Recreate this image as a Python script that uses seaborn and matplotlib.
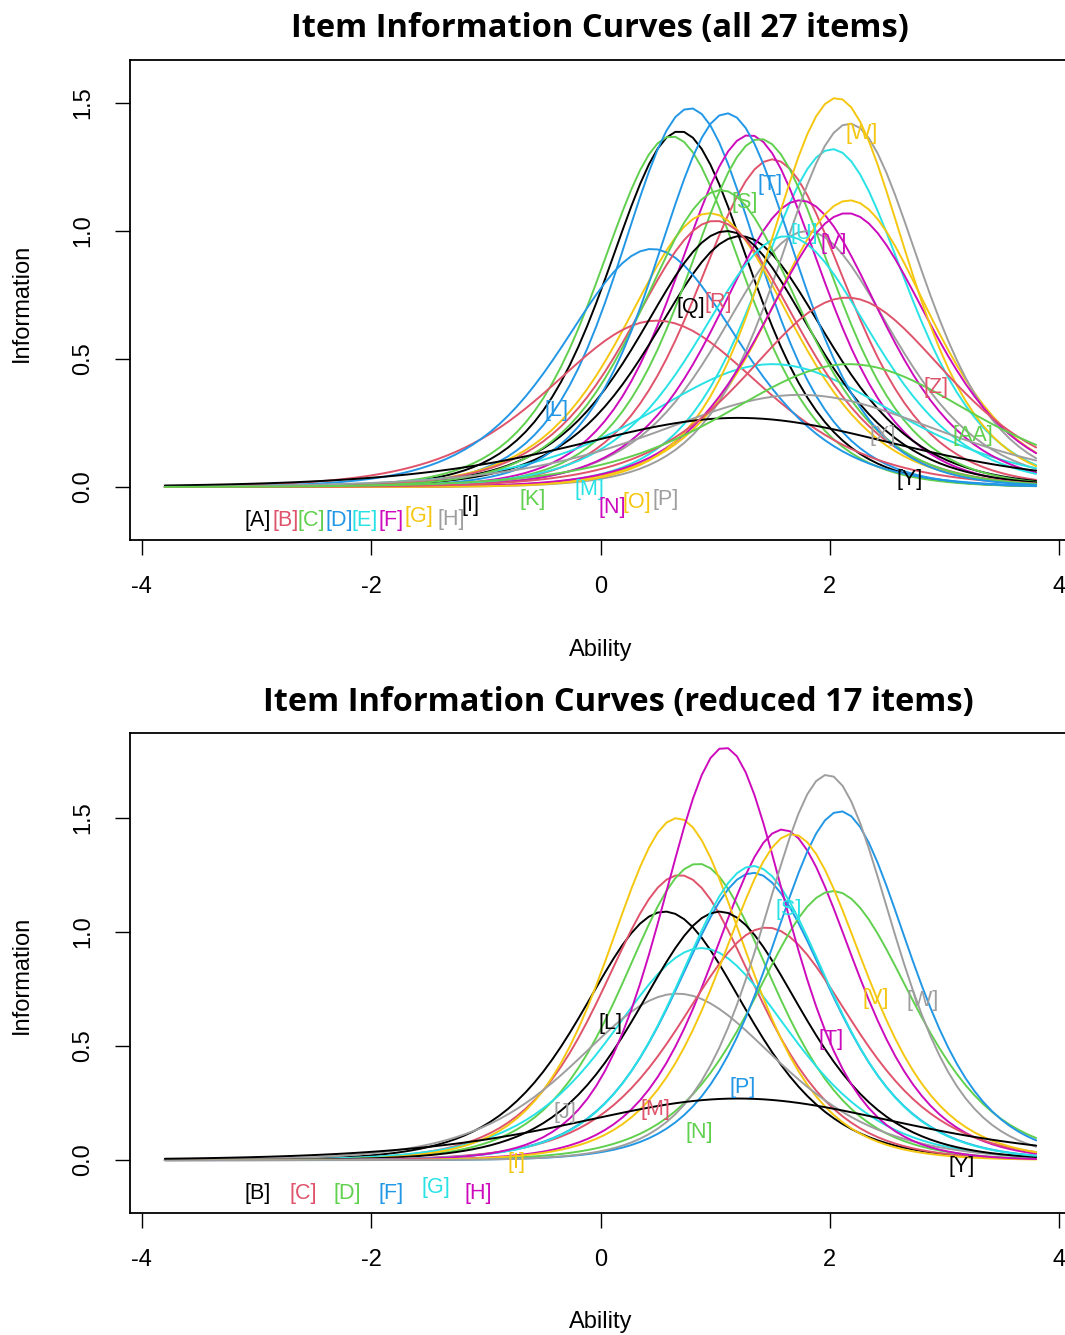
import numpy as np
import pandas as pd
import matplotlib
matplotlib.use("Agg")
import matplotlib.pyplot as plt
import seaborn as sns

# ---------------- data ----------------
R_PALETTE = ["#000000", "#DF536B", "#61D04F", "#2297E6",
             "#28E2E5", "#CD0BBC", "#F5C710", "#9E9E9E"]

# Top panel: all 27 items  (location of the peak, height of the peak)
top_items = ["A", "B", "C", "D", "E", "F", "G", "H", "I", "J", "K", "L", "M",
             "N", "O", "P", "Q", "R", "S", "T", "U", "V", "W", "X", "Y", "Z", "AA"]
top_peak_ability = [0.69, 1.50, 0.62, 0.78, 2.02, 1.30, 0.95, 1.80, 1.22, 0.49,
                    1.39, 0.45, 1.50, 1.74, 2.17, 2.17, 1.10, 1.00, 1.05, 1.10,
                    1.62, 2.15, 2.06, 1.74, 1.20, 2.15, 2.17]
top_peak_info = [1.39, 1.28, 1.37, 1.48, 1.32, 1.375, 1.07, 1.00, 0.98, 0.65,
                 1.36, 0.93, 0.48, 1.12, 1.12, 1.42, 1.00, 1.04, 1.16, 1.46,
                 0.98, 1.07, 1.52, 0.36, 0.27, 0.74, 0.48]
top_label_x = [-2.99, -2.75, -2.52, -2.28, -2.06, -1.83, -1.58, -1.30, -1.13, np.nan,
               -0.59, -0.38, -0.10, 0.10, 0.32, 0.57, 0.79, 1.03, 1.26, 1.48,
               1.78, 2.03, 2.28, 2.46, 2.70, 2.93, 3.25]
top_label_y = [-0.13, -0.13, -0.13, -0.13, -0.13, -0.13, -0.117, -0.125, -0.074, np.nan,
               -0.05, 0.30, -0.01, -0.08, -0.06, -0.05, 0.70, 0.72, 1.11, 1.18,
               0.99, 0.95, 1.38, 0.20, 0.03, 0.39, 0.20]

# Bottom panel: reduced 17 items
bot_items = ["B", "C", "D", "F", "G", "H", "I", "J", "L", "M", "N", "P",
             "S", "T", "V", "W", "Y"]
bot_peak_ability = [0.56, 0.69, 0.85, 1.33, 0.88, 1.59, 0.67, 0.67, 1.04, 1.45,
                    2.03, 2.09, 1.33, 1.08, 1.67, 1.98, 1.20]
bot_peak_info = [1.09, 1.25, 1.30, 1.26, 0.93, 1.45, 1.50, 0.73, 1.09, 1.02,
                 1.18, 1.53, 1.29, 1.81, 1.43, 1.69, 0.27]
bot_label_x = [-2.99, -2.59, -2.21, -1.83, -1.44, -1.07, -0.73, -0.31, 0.09, 0.48,
               0.86, 1.24, 1.64, 2.01, 2.40, 2.81, 3.15]
bot_label_y = [-0.145, -0.145, -0.145, -0.145, -0.12, -0.145, -0.01, 0.21, 0.60, 0.22,
               0.12, 0.32, 1.10, 0.53, 0.71, 0.70, -0.03]

x_ticks = [-4, -2, 0, 2, 4]
x_tick_labels = ["-4", "-2", "0", "2", "4"]
y_ticks = [0.0, 0.5, 1.0, 1.5]
y_tick_labels = ["0.0", "0.5", "1.0", "1.5"]

ability_grid = np.linspace(-3.8, 3.8, 100)


def item_information(theta, location, peak):
    # 2PL item information; discrimination from peak height (peak = a^2/4)
    a = 2.0 * np.sqrt(peak)
    p = 1.0 / (1.0 + np.exp(-a * (theta - location)))
    return a * a * p * (1.0 - p)


def build_frame(items, locs, peaks):
    rows = []
    for it, b, pk in zip(items, locs, peaks):
        info = item_information(ability_grid, b, pk)
        rows.append(pd.DataFrame({"Ability": ability_grid, "Information": info, "item": it}))
    return pd.concat(rows, ignore_index=True)


# ---------------- styling ----------------
sns.set_style("white")
plt.rcParams["font.family"] = ["Liberation Sans", "DejaVu Sans"]
plt.rcParams["text.color"] = "#000000"
plt.rcParams["axes.labelcolor"] = "#000000"
plt.rcParams["xtick.color"] = "#000000"
plt.rcParams["ytick.color"] = "#000000"

W, H = 1065, 1335
fig = plt.figure(figsize=(W / 100, H / 100), dpi=100)


def make_panel(top_px, bottom_px, items, locs, peaks, lx, ly, ylim):
    ax = fig.add_axes([130 / W, 1 - bottom_px / H, (1071 - 130) / W, (bottom_px - top_px) / H])
    df = build_frame(items, locs, peaks)
    pal = {it: R_PALETTE[i % 8] for i, it in enumerate(items)}
    sns.lineplot(data=df, x="Ability", y="Information", hue="item", hue_order=items,
                 palette=pal, legend=False, ax=ax, linewidth=1.4, sort=False)
    for i, it in enumerate(items):
        if np.isnan(lx[i]):
            continue
        ax.text(lx[i], ly[i], f"[{it}]", color=R_PALETTE[i % 8], fontsize=15.5,
                ha="center", va="center")
    ax.set_xlim(-4.104, 4.104)
    ax.set_ylim(*ylim)
    ax.set_xticks(x_ticks)
    ax.set_xticklabels(x_tick_labels)
    ax.set_yticks(y_ticks)
    ax.set_yticklabels(y_tick_labels, rotation=90, va="center")
    ax.tick_params(direction="out", length=11, width=1.0, pad=15, labelsize=17,
                   colors="#000000", bottom=True, left=True)
    for s in ax.spines.values():
        s.set_color("#000000")
        s.set_linewidth(1.3)
        s.set_visible(True)
    ax.set_xlabel("")
    ax.set_ylabel("")
    return ax


make_panel(60, 540, top_items, top_peak_ability, top_peak_info,
           top_label_x, top_label_y, (-0.207, 1.668))
make_panel(733, 1213, bot_items, bot_peak_ability, bot_peak_info,
           bot_label_x, bot_label_y, (-0.232, 1.873))

title_font = ["Open Sans", "DejaVu Sans"]
fig.text(600 / W, 1 - 28 / H, "Item Information Curves (all 27 items)",
         ha="center", va="center", fontsize=23.5, fontweight="bold", family=title_font,
         color="#000000")
fig.text(618 / W, 1 - 702 / H, "Item Information Curves (reduced 17 items)",
         ha="center", va="center", fontsize=23.5, fontweight="bold", family=title_font,
         color="#000000")

for yc in (303, 975):
    fig.text(22 / W, 1 - yc / H, "Information", rotation=90, ha="center", va="center",
             fontsize=17, color="#000000")
for yc in (650, 1322):
    fig.text(601 / W, 1 - yc / H, "Ability", ha="center", va="center", fontsize=17,
             color="#000000")

fig.savefig("out.png", dpi=100)
